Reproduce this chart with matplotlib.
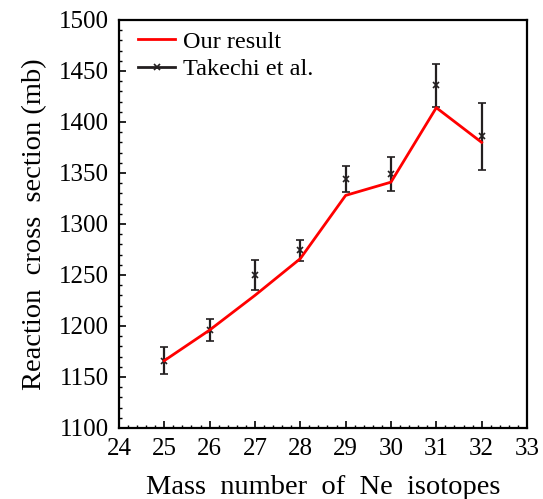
import matplotlib
matplotlib.use("Agg")
import matplotlib.pyplot as plt
from matplotlib.ticker import MultipleLocator
from matplotlib.lines import Line2D

plt.rcParams['font.family'] = ['Liberation Serif', 'DejaVu Serif']

mass = [25, 26, 27, 28, 29, 30, 31, 32]
our_result = [1166, 1196, 1230, 1266, 1328, 1341, 1414, 1380]
takechi = [1166, 1196, 1250, 1274, 1344, 1349, 1436, 1386]
takechi_err = [13, 11, 15, 10, 13, 17, 21, 33]

fig = plt.figure(figsize=(5.43, 4.99), dpi=100)
ax = fig.add_axes([0.219, 0.1423, 0.7515, 0.8177])

ax.plot(mass, our_result, color='#ff0000', lw=2.0, label='Our result', zorder=3)
ax.errorbar(mass, takechi, yerr=takechi_err, fmt='x', color='#231f20',
            ms=4, mew=1.2, elinewidth=1.6, capsize=2.8, capthick=1.6,
            ls='none', label='Takechi et al.', zorder=2)

ax.set_xlim(24, 33)
ax.set_ylim(1100, 1500)
ax.xaxis.set_major_locator(MultipleLocator(1))
ax.xaxis.set_minor_locator(MultipleLocator(0.2))
ax.yaxis.set_major_locator(MultipleLocator(50))
ax.yaxis.set_minor_locator(MultipleLocator(10))
ax.tick_params(which='both', direction='in', labelsize=18, colors='black')
ax.tick_params(which='major', length=5, width=1.2)
ax.tick_params(which='minor', length=2.5, width=1.0)
ax.tick_params(axis='x', which='major', pad=7)
ax.tick_params(axis='y', which='major', pad=7.5)
for s in ax.spines.values():
    s.set_linewidth(1.6)

ax.set_xlabel('Mass  number  of  Ne  isotopes', fontsize=20.5, labelpad=11)
ax.set_ylabel('Reaction  cross  section (mb)', fontsize=20.5, labelpad=8)

h1 = Line2D([], [], color='#ff0000', lw=2.0)
h2 = Line2D([], [], color='#231f20', lw=2.0, marker='x', ms=4, mew=1.2)
leg = ax.legend([h1, h2], ['Our result', 'Takechi et al.'], loc='upper left',
                bbox_to_anchor=(0.015, 1.006),
                frameon=False, fontsize=17.5, handlelength=1.5, handletextpad=0.35,
                borderaxespad=0.25, borderpad=0.3, labelspacing=0.22)

fig.savefig('out.png', dpi=100)
